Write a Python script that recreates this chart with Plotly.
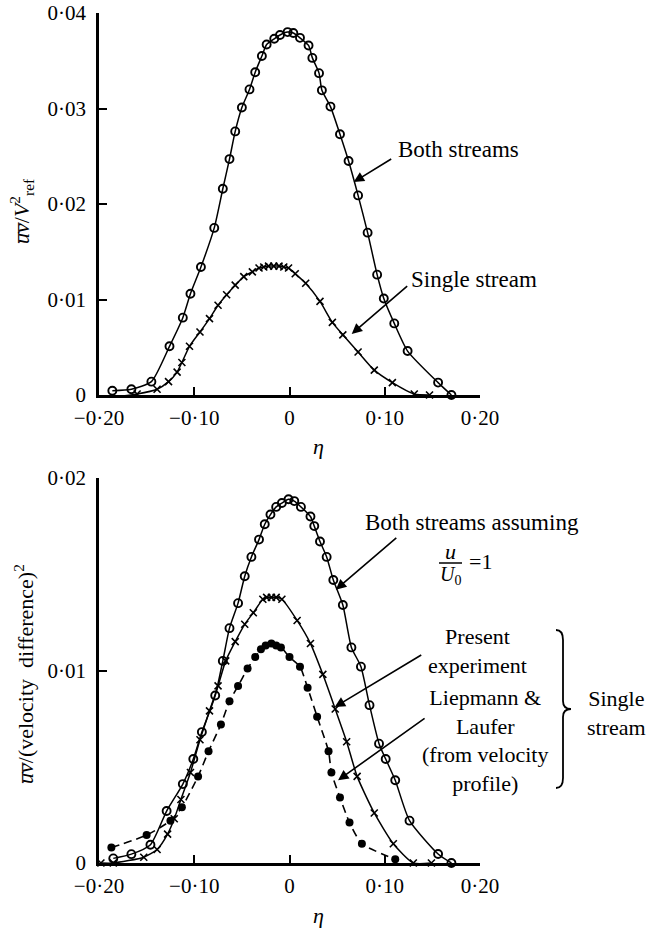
import plotly.graph_objects as go
from plotly.subplots import make_subplots

# ---------------- data ----------------
# Top panel: uv / V_ref^2
top_both_eta = [-0.186, -0.166, -0.145, -0.126, -0.112, -0.104, -0.093, -0.079, -0.070, -0.063,
                -0.057, -0.050, -0.042, -0.036, -0.029, -0.024, -0.016, -0.010, -0.002, 0.004,
                0.011, 0.020, 0.024, 0.031, 0.034, 0.043, 0.053, 0.062, 0.072, 0.082,
                0.092, 0.099, 0.110, 0.124, 0.156, 0.170]
top_both_val = [0.00045, 0.0006, 0.0014, 0.0051, 0.0081, 0.0106, 0.0134, 0.0175, 0.0216, 0.0247,
                0.0276, 0.0301, 0.0320, 0.0338, 0.0355, 0.0367, 0.0373, 0.0377, 0.0380, 0.0379,
                0.0374, 0.0366, 0.0353, 0.0337, 0.0319, 0.0302, 0.0273, 0.0245, 0.0209, 0.0170,
                0.0126, 0.0101, 0.0075, 0.0046, 0.0013, 0.0]

top_single_eta = [-0.183, -0.160, -0.139, -0.127, -0.118, -0.113, -0.105, -0.094, -0.084, -0.075,
                  -0.066, -0.057, -0.048, -0.039, -0.032, -0.027, -0.022, -0.0165, -0.011, -0.006,
                  -0.001, 0.006, 0.017, 0.032, 0.045, 0.056, 0.072, 0.089, 0.108, 0.131, 0.147]
top_single_val = [-0.0002, 0.0001, 0.0006, 0.0014, 0.0024, 0.0034, 0.0051, 0.0066, 0.0080, 0.0094,
                  0.0105, 0.0115, 0.0124, 0.0129, 0.0133, 0.0134, 0.0135, 0.0135, 0.0135, 0.0134,
                  0.0133, 0.0127, 0.0117, 0.0098, 0.0076, 0.0063, 0.0045, 0.0026, 0.0013, 0.0001, 0.0]

# Bottom panel: uv / (velocity difference)^2
bot_both_eta = [-0.185, -0.166, -0.146, -0.129, -0.112, -0.101, -0.092, -0.078, -0.070, -0.063,
                -0.054, -0.047, -0.040, -0.032, -0.026, -0.020, -0.014, -0.008, -0.001, 0.005,
                0.012, 0.022, 0.026, 0.032, 0.039, 0.046, 0.056, 0.065, 0.075, 0.084,
                0.094, 0.101, 0.111, 0.126, 0.156, 0.170]
bot_both_val = [0.00024, 0.00046, 0.00095, 0.0027, 0.0041, 0.0054, 0.0068, 0.0087, 0.0105, 0.0122,
                0.0135, 0.0149, 0.0159, 0.0168, 0.0176, 0.0181, 0.0185, 0.0187, 0.0189, 0.0188,
                0.0185, 0.0180, 0.0175, 0.0167, 0.0159, 0.0147, 0.0134, 0.0112, 0.0102, 0.0082,
                0.0062, 0.0054, 0.0043, 0.0022, 0.00047, 0.0]

bot_present_eta = [-0.198, -0.185, -0.153, -0.139, -0.128, -0.121, -0.114, -0.104, -0.094, -0.084,
                   -0.075, -0.067, -0.057, -0.047, -0.038, -0.028, -0.024, -0.019, -0.014, -0.008,
                   0.008, 0.022, 0.035, 0.048, 0.060, 0.071, 0.089, 0.109, 0.130, 0.149]
bot_present_val = [0.0, 0.0, 0.0003, 0.0007, 0.0015, 0.0023, 0.0033, 0.0047, 0.0064, 0.0079,
                   0.0092, 0.0105, 0.0115, 0.0124, 0.0130, 0.0137, 0.0138, 0.0138, 0.0138, 0.0137,
                   0.0126, 0.0114, 0.0098, 0.0080, 0.0063, 0.0045, 0.0026, 0.0010, 0.0, 0.0]

bot_lief_eta = [-0.187, -0.150, -0.125, -0.113, -0.096, -0.085, -0.072, -0.063, -0.054, -0.044,
                -0.036, -0.030, -0.025, -0.019, -0.014, -0.009, 0.000, 0.011, 0.019, 0.029,
                0.041, 0.044, 0.053, 0.063, 0.076, 0.111]
bot_lief_val = [0.0008, 0.00145, 0.0022, 0.0029, 0.0045, 0.0058, 0.0072, 0.0084, 0.0092, 0.0101,
                0.0107, 0.0111, 0.0113, 0.0114, 0.0113, 0.0112, 0.0107, 0.0102, 0.0091, 0.0076,
                0.0058, 0.0047, 0.0034, 0.0021, 0.0010, 0.0002]

x_tickvals = [-0.2, -0.1, 0.0, 0.1, 0.2]
x_ticktext = ["\u22120\u00b720", "\u22120\u00b710", "0", "0\u00b710", "0\u00b720"]
top_y_tickvals = [0, 0.01, 0.02, 0.03, 0.04]
top_y_ticktext = ["0", "0\u00b701", "0\u00b702", "0\u00b703", "0\u00b704"]
bot_y_tickvals = [0, 0.01, 0.02]
bot_y_ticktext = ["0", "0\u00b701", "0\u00b702"]

# ---------------- figure ----------------
W, H = 649, 931
ML, MR, MT, MB = 99, 169, 13, 68
PW = W - ML - MR
PH = H - MT - MB
FONT = "Liberation Serif, Times New Roman, serif"


def px(X):
    return (X - ML) / PW


def py(Y):
    return (H - MB - Y) / PH


fig = make_subplots(rows=2, cols=1)

line_style = dict(color="black", width=1.5, shape="spline", smoothing=0.6)
open_circle = dict(symbol="circle-open", size=8, color="black", line=dict(width=1.9, color="black"))
cross = dict(symbol="x-thin", size=7, color="black", line=dict(width=1.6, color="black"))
dot = dict(symbol="circle", size=8, color="black")

fig.add_trace(go.Scatter(x=top_both_eta, y=top_both_val, mode="lines+markers",
                         line=line_style, marker=open_circle, cliponaxis=False), row=1, col=1)
fig.add_trace(go.Scatter(x=top_single_eta, y=top_single_val, mode="lines+markers",
                         line=line_style, marker=cross, cliponaxis=False), row=1, col=1)
fig.add_trace(go.Scatter(x=bot_both_eta, y=bot_both_val, mode="lines+markers",
                         line=line_style, marker=open_circle, cliponaxis=False), row=2, col=1)
fig.add_trace(go.Scatter(x=bot_present_eta, y=bot_present_val, mode="lines+markers",
                         line=line_style, marker=cross, cliponaxis=False), row=2, col=1)
fig.add_trace(go.Scatter(x=bot_lief_eta, y=bot_lief_val, mode="lines+markers",
                         line=dict(color="black", width=1.6, dash="8px,5px", shape="spline", smoothing=0.6),
                         marker=dot, cliponaxis=False), row=2, col=1)

top_dom = [py(395), 1.0]
bot_dom = [0.0, py(478)]

axis_common = dict(showgrid=False, zeroline=False, showline=True, linecolor="black", linewidth=2.5,
                   ticks="inside", tickcolor="black", tickwidth=2, ticklen=8, automargin=False,
                   tickfont=dict(family=FONT, size=21, color="black"), mirror=False)

fig.update_xaxes(**axis_common, range=[-0.2, 0.2], tickvals=x_tickvals, ticktext=x_ticktext,
                 ticklabelstandoff=2)
fig.update_yaxes(**axis_common, ticklabelstandoff=6)
fig.update_yaxes(range=[0, 0.04], tickvals=top_y_tickvals, ticktext=top_y_ticktext,
                 domain=top_dom, row=1, col=1)
fig.update_yaxes(range=[0, 0.02], tickvals=bot_y_tickvals, ticktext=bot_y_ticktext,
                 domain=bot_dom, row=2, col=1)

ann = []


def text(X, Y, s, xanchor="center", size=23, angle=0):
    ann.append(dict(text=s, x=px(X), y=py(Y), xref="paper", yref="paper", showarrow=False,
                    xanchor=xanchor, yanchor="middle", textangle=angle,
                    font=dict(family=FONT, size=size, color="black")))


def arrow(xref, yref, hx, hy, ax, ay):
    ann.append(dict(text="", x=hx, y=hy, xref=xref, yref=yref, ax=ax, ay=ay, showarrow=True,
                    arrowhead=2, arrowsize=1.3, arrowwidth=1.6, arrowcolor="black", standoff=0))


# axis titles
text(22, 211, "<i>u\u0305v\u0305</i>/<i>V</i><sup>2</sup><sub>ref</sub>", size=22, angle=-90)
text(24, 674, "<i>u\u0305v\u0305</i>/(velocity  difference)<sup>2</sup>", size=22, angle=-90)
text(318, 447, "<i>\u03b7</i>", size=22)
text(318, 916, "<i>\u03b7</i>", size=22)

# top panel labels
text(396, 150, "Both streams", xanchor="left")
arrow("x", "y", 0.0674, 0.0223, 39, -24)
text(409, 279, "Single stream", xanchor="left")
arrow("x", "y", 0.0653, 0.0064, 57, -49)

# bottom panel labels
text(363, 522, "Both streams assuming", xanchor="left")
text(450, 551, "<i>u</i>", size=22)
text(450, 575, "<i>U</i><sub>0</sub>", size=20)
text(467, 561, "=1", xanchor="left", size=22)
arrow("x2", "y2", 0.0486, 0.0142, 62, -53)

text(477, 651, "Present<br>experiment", size=22)
arrow("x2", "y2", 0.0475, 0.0081, 88, -53)

text(485, 740, "Liepmann &amp;<br>Laufer<br>(from velocity<br>profile)", size=22)
arrow("x2", "y2", 0.051, 0.0043, 88, -63)

text(616, 713, "Single<br>stream", size=22)

shapes = []
# fraction bar
shapes.append(dict(type="line", xref="paper", yref="paper", x0=px(439), x1=px(462),
                   y0=py(563), y1=py(563), line=dict(color="black", width=1.5)))
# curly brace
bx0, bx1, bxt = 556, 563, 571
by0, bym, by1 = 630, 709, 788


def P(X, Y):
    return f"{px(X):.5f},{py(Y):.5f}"


brace = (f"M {P(bx0, by0)} Q {P(bx1, by0)} {P(bx1, by0 + 10)} "
         f"L {P(bx1, bym - 8)} Q {P(bx1, bym)} {P(bxt, bym)} "
         f"Q {P(bx1, bym)} {P(bx1, bym + 8)} "
         f"L {P(bx1, by1 - 10)} Q {P(bx1, by1)} {P(bx0, by1)}")
shapes.append(dict(type="path", xref="paper", yref="paper", path=brace,
                   line=dict(color="black", width=1.8)))

fig.update_layout(width=W, height=H, margin=dict(l=ML, r=MR, t=MT, b=MB, autoexpand=False),
                  paper_bgcolor="white", plot_bgcolor="white", showlegend=False,
                  annotations=ann, shapes=shapes)

fig.write_html("out.html")
